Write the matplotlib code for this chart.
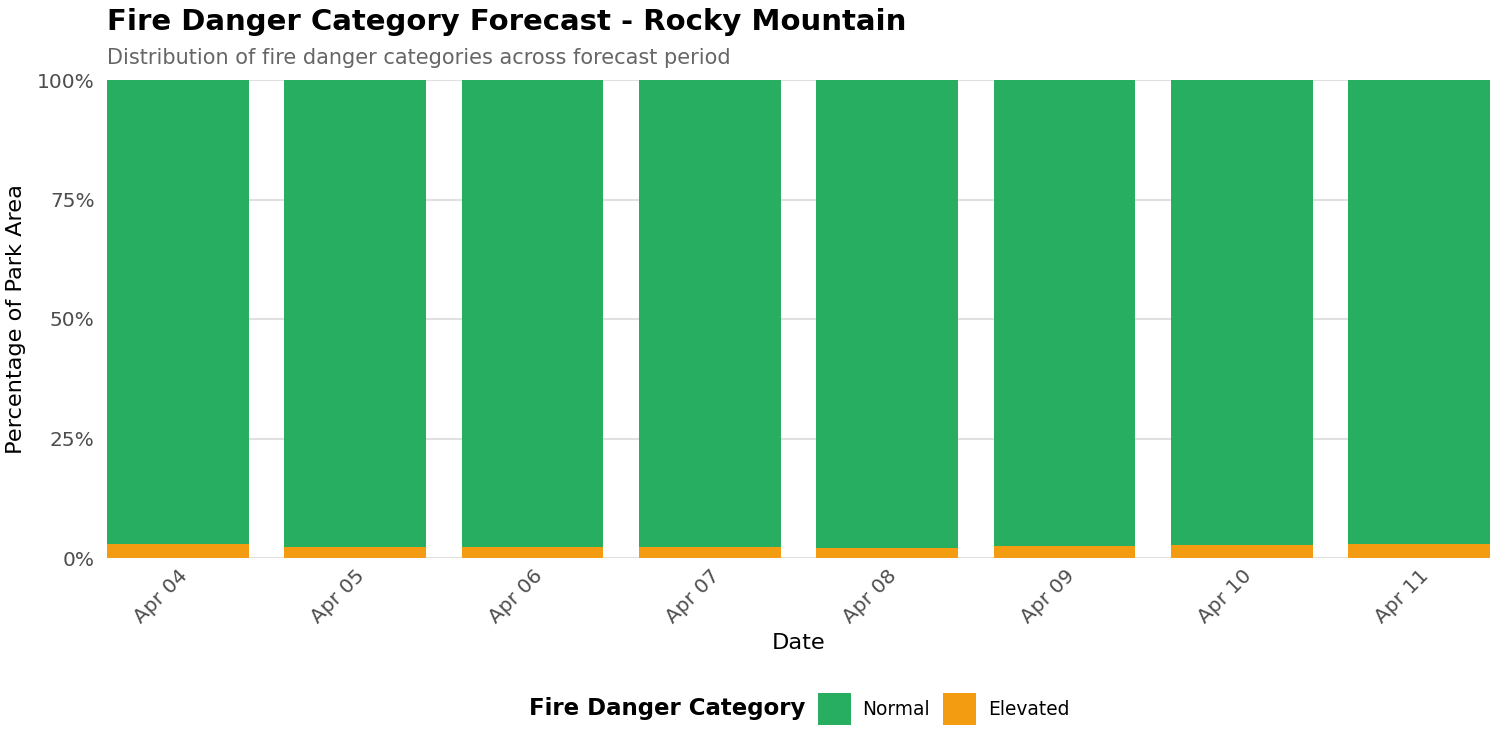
import matplotlib
matplotlib.use("Agg")
import matplotlib.pyplot as plt
from matplotlib.patches import Patch
import numpy as np

dates = ["Apr 04", "Apr 05", "Apr 06", "Apr 07", "Apr 08", "Apr 09", "Apr 10", "Apr 11"]
elevated = [2.9, 2.3, 2.3, 2.3, 2.1, 2.5, 2.7, 2.9]
normal = [100 - e for e in elevated]
categories = ["Normal", "Elevated"]
colors = {"Normal": "#27AE60", "Elevated": "#F39C12"}

plt.rcParams['font.family'] = ['DejaVu Sans']
fig = plt.figure(figsize=(15, 7.5), dpi=100)
ax = fig.add_axes([107/1500, 1-558/750, (1490-107)/1500, (558-80)/750])

x = np.arange(len(dates))
ax.bar(x, elevated, width=0.8, color=colors["Elevated"], zorder=3)
ax.bar(x, normal, width=0.8, bottom=elevated, color=colors["Normal"], zorder=3)

ax.set_xlim(-0.4, len(dates) - 0.6)
ax.set_ylim(0, 100)
ax.set_yticks([0, 25, 50, 75, 100])
ax.set_yticklabels(["0%", "25%", "50%", "75%", "100%"])
ax.set_xticks(x)
ax.set_xticklabels(dates, rotation=45, ha="right", va="top", rotation_mode="anchor")
ax.tick_params(axis="both", length=0, labelsize=14.5, labelcolor="#4D4D4D")
ax.tick_params(axis="y", pad=9)
ax.tick_params(axis="x", pad=6)
ax.grid(axis="y", color="#E0E0E0", linewidth=1.5, zorder=0)
for s in ax.spines.values():
    s.set_visible(False)
ax.set_xlabel("Date", fontsize=16.2, color="black", labelpad=4)
ax.set_ylabel("Percentage of Park Area", fontsize=16.2, color="black", labelpad=8)

fig.text(107/1500, 1-22/750, "Fire Danger Category Forecast - Rocky Mountain",
         fontsize=21, fontweight="bold", ha="left", va="center")
fig.text(107/1500, 1-58/750, "Distribution of fire danger categories across forecast period",
         fontsize=15, color="#666666", ha="left", va="center")

fig.text(805/1500, 1-709/750, "Fire Danger Category", fontsize=16.5, fontweight="bold",
         ha="right", va="center")
handles = [Patch(facecolor=colors[c], edgecolor="none") for c in categories]
leg = fig.legend(handles, categories, loc="center left", bbox_to_anchor=(801/1500, 1-709/750),
                 ncol=2, frameon=False, fontsize=13.4, handlelength=1.77, handleheight=2.34,
                 handletextpad=0.64, columnspacing=0.69)

fig.savefig("out.png", dpi=100)
